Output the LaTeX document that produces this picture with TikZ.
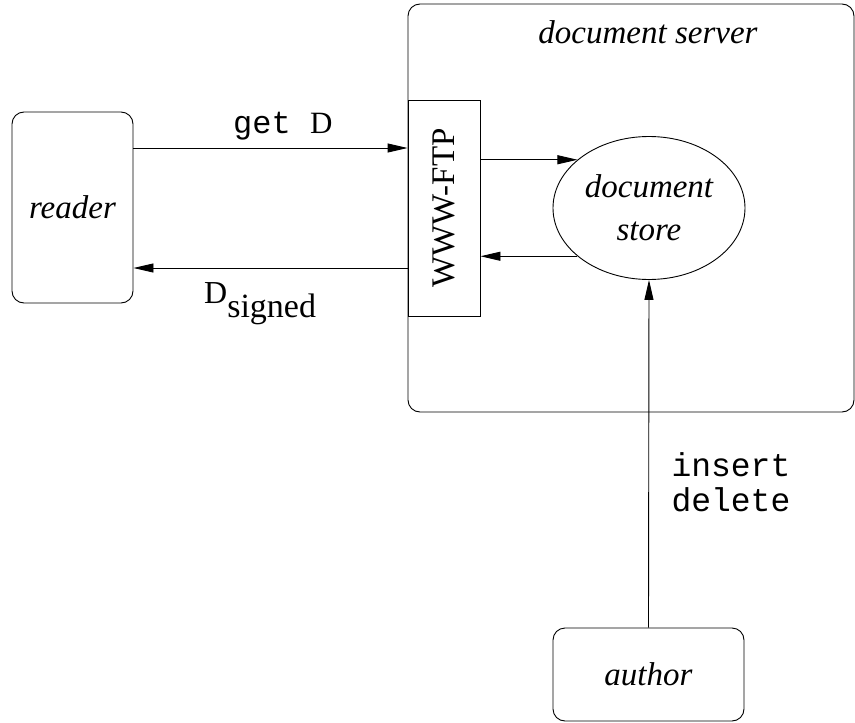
\documentclass[tikz,border=0pt]{standalone}
\usepackage{fontspec}
\setmainfont{Liberation Serif}
\setmonofont{Liberation Mono}
\usetikzlibrary{arrows.meta,shapes.geometric}
\begin{document}
\begin{tikzpicture}[x=1pt,y=-1pt,
  every node/.style={font=\fontsize{33}{40}\selectfont},
  rbox/.style={draw,rounded corners=12pt,line width=0.9pt,inner sep=0pt},
  arr/.style={-{Triangle[length=20pt,width=9pt]},line width=0.9pt}]
\useasboundingbox (0,0) rectangle (855,723);
\node[rbox,minimum width=446pt,minimum height=408pt] (server) at (631,208) {};
\node (servlabel) at (648,32) {\itshape document server};
\node[rbox,minimum width=121pt,minimum height=191pt] (reader) at (72.5,207.5) {\itshape reader};
\node[draw,line width=0.9pt,minimum width=72pt,minimum height=216pt,inner sep=0pt] (ftp) at (444,208) {};
\node[rotate=90] (ftplabel) at (ftp.center) {WWW-FTP};
\node[draw,ellipse,line width=0.9pt,minimum width=192pt,minimum height=143pt,inner sep=0pt,align=center,
  font=\fontsize{33}{43}\selectfont\itshape] (store) at (649,208) {document\\store};
\node[rbox,minimum width=191pt,minimum height=93pt] (author) at (648.5,674.5) {\itshape author};
\coordinate (yget) at (0,148);
\coordinate (ysig) at (0,268);
\draw[arr] (reader.east |- yget) -- (ftp.west |- yget);
\draw[arr] (ftp.west |- ysig) -- (reader.east |- ysig);
\draw[arr] (ftp.east |- store.146) -- (store.146);
\draw[arr] (store.214) -- (ftp.east |- store.214);
\draw[arr] (author.north) -- (store.south);
\node[anchor=base west,inner sep=0pt] (getlabel) at (233,133) {{\fontsize{32}{36}\selectfont\ttfamily get }{\fontsize{31}{36}\selectfont D}};
\node[anchor=base west,inner sep=0pt] (siglabel) at (204,303) {{\fontsize{32}{36}\selectfont D}\raisebox{-14pt}{\fontsize{34}{36}\selectfont signed}};
\node[anchor=west,align=left,font=\fontsize{33}{35}\selectfont\ttfamily] (ops) at (668,482) {insert\\delete};
\end{tikzpicture}
\end{document}
